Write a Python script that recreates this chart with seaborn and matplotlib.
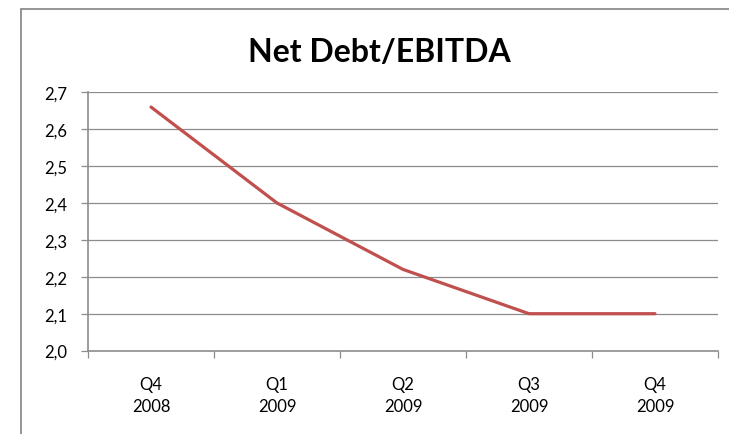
import matplotlib
matplotlib.use("Agg")
import matplotlib.pyplot as plt
from matplotlib.lines import Line2D
from matplotlib.ticker import FixedLocator, FuncFormatter
import seaborn as sns
import pandas as pd

quarters = ["Q4\n2008", "Q1\n2009", "Q2\n2009", "Q3\n2009", "Q4\n2009"]
ratio = [2.66, 2.40, 2.22, 2.10, 2.10]
y_ticks = [2.0, 2.1, 2.2, 2.3, 2.4, 2.5, 2.6, 2.7]

sns.set_theme(style="white")
plt.rcParams["font.family"] = ["Lato", "DejaVu Sans"]
plt.rcParams["text.color"] = "black"
plt.rcParams["xtick.color"] = "black"
plt.rcParams["ytick.color"] = "black"

df = pd.DataFrame({"quarter": quarters, "ratio": ratio})

fig = plt.figure(figsize=(7.29, 4.35), dpi=100)
ax = fig.add_axes([88 / 729, 1 - 351.6 / 435, 630 / 729, (351.6 - 93.3) / 435])

grid_c = "#8c8c8c"
for v in y_ticks[1:]:
    ax.axhline(v, color=grid_c, lw=0.9, zorder=1)

sns.lineplot(data=df, x="quarter", y="ratio", ax=ax, color="#C0504D",
             linewidth=2.3, sort=False, zorder=3)

ax.set_xlim(-0.5, len(quarters) - 0.5)
ax.set_ylim(y_ticks[0], y_ticks[-1])
ax.set_yticks(y_ticks)
ax.yaxis.set_major_formatter(FuncFormatter(lambda v, p: f"{v:.1f}".replace(".", ",")))
ax.set_xticks(range(len(quarters)))
ax.set_xticklabels(quarters, linespacing=1.5)
ax.xaxis.set_minor_locator(FixedLocator([i - 0.5 for i in range(len(quarters) + 1)]))
ax.tick_params(axis="x", which="major", length=0, pad=18, labelsize=12, labelcolor="black")
ax.tick_params(axis="x", which="minor", length=5, width=0.9, color=grid_c, direction="out", bottom=True)
ax.tick_params(axis="y", which="major", length=5, width=0.9, color=grid_c, direction="out",
               left=True, pad=10, labelsize=12, labelcolor="black")
ax.set_xlabel("")
ax.set_ylabel("")

for side in ["top", "right"]:
    ax.spines[side].set_visible(False)
for side in ["left", "bottom"]:
    ax.spines[side].set_color(grid_c)
    ax.spines[side].set_linewidth(1.2)

fig.text(379 / 729, 1 - 53 / 435, "Net Debt/EBITDA", ha="center", va="center",
         fontsize=23, fontweight="bold", color="black")

# chart border (left and top edges)
fig.add_artist(Line2D([21 / 729, 21 / 729], [0, 1 - 9.5 / 435], transform=fig.transFigure,
                      color="#8c8c8c", lw=1.3))
fig.add_artist(Line2D([21 / 729, 1], [1 - 9.5 / 435, 1 - 9.5 / 435], transform=fig.transFigure,
                      color="#8c8c8c", lw=1.3))

fig.savefig("out.png", dpi=100)
